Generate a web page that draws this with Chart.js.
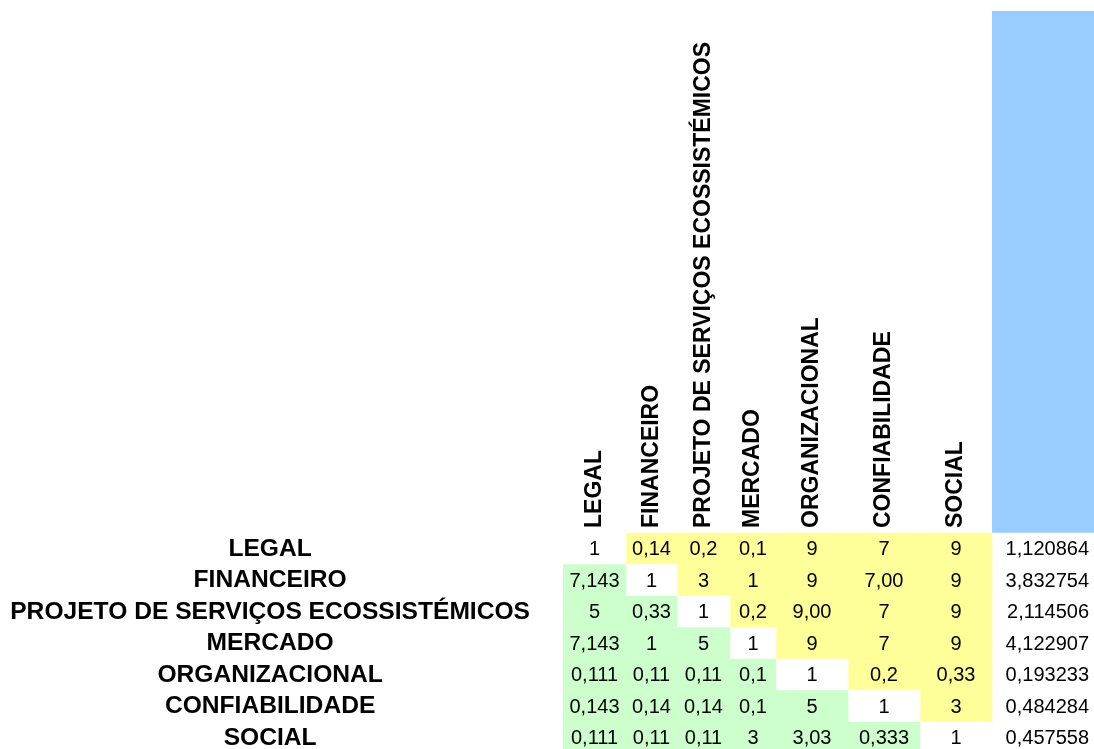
<!DOCTYPE html>
<html>
<head>
<meta charset="utf-8">
<script src="https://cdn.jsdelivr.net/npm/chart.js@4"></script>
<style>
  html, body { margin: 0; padding: 0; background: #fff; overflow: hidden; }
  canvas { display: block; }
</style>
</head>
<body>
<canvas id="matriz" width="1094" height="749"></canvas>
<script>
// criterios (linhas e colunas da matriz)
const criterios = ['LEGAL', 'FINANCEIRO', 'PROJETO DE SERVIÇOS ECOSSISTÉMICOS', 'MERCADO', 'ORGANIZACIONAL', 'CONFIABILIDADE', 'SOCIAL']

// valores de cada linha, como aparecem na planilha
const legal = ['1', '0,14', '0,2', '0,1', '9', '7', '9']
const financeiro = ['7,143', '1', '3', '1', '9', '7,00', '9']
const projeto = ['5', '0,33', '1', '0,2', '9,00', '7', '9']
const mercado = ['7,143', '1', '5', '1', '9', '7', '9']
const organizacional = ['0,111', '0,11', '0,11', '0,1', '1', '0,2', '0,33']
const confiabilidade = ['0,143', '0,14', '0,14', '0,1', '5', '1', '3']
const social = ['0,111', '0,11', '0,11', '3', '3,03', '0,333', '1']

// pesos (ultima coluna)
const pesos = [1.120864, 3.832754, 2.114506, 4.122907, 0.193233, 0.484284, 0.457558]

const linhas = [legal, financeiro, projeto, mercado, organizacional, confiabilidade, social]

// layout: largura das colunas (em px do eixo x), altura da linha e topo do cabecalho
const larguras = [63, 51, 53, 46, 72, 72, 72, 102]
const bordas = [0]
larguras.forEach(w => bordas.push(bordas[bordas.length - 1] + w))
const alturaLinha = 31.5
const topoTabela = 533
const topoCabecalho = -(topoTabela - 11) / alturaLinha

const amarelo = '#FFFF99'
const verde = '#CCFFCC'
const azul = '#99CCFF'

function cor_celula(linha, coluna) {
    if (coluna >= criterios.length || linha === coluna) return '#FFFFFF'
    return coluna > linha ? amarelo : verde
}

function formata_peso(v) {
    return v.toFixed(6).replace('.', ',')
}

const datasets = []
for (let c = 0; c <= criterios.length; c++) {
    datasets.push({
        type: 'bar',
        indexAxis: 'y',
        data: linhas.map((l, i) => ({ y: i + 0.5, x: [bordas[c], bordas[c + 1]] })),
        backgroundColor: ctx => cor_celula(ctx.dataIndex, c),
        borderWidth: 0,
        barPercentage: 1,
        categoryPercentage: 1,
        grouped: false,
        coluna: c
    })
}
// celula azul acima da coluna de pesos
datasets.push({
    type: 'line',
    data: [{ x: bordas[7], y: topoCabecalho }, { x: bordas[8], y: topoCabecalho }],
    fill: { value: 0 },
    backgroundColor: azul,
    borderWidth: 0,
    pointRadius: 0
})

const textos = {
    id: 'textos',
    afterDatasetsDraw(chart) {
        const ctx = chart.ctx
        const yScale = chart.scales.y
        ctx.save()
        ctx.fillStyle = '#000'
        chart.data.datasets.forEach((ds, di) => {
            if (ds.type !== 'bar') return
            const meta = chart.getDatasetMeta(di)
            meta.data.forEach((el, i) => {
                const x0 = Math.min(el.x, el.base)
                const x1 = Math.max(el.x, el.base)
                ctx.font = '20px "Liberation Sans", Arial, sans-serif'
                ctx.textBaseline = 'middle'
                if (ds.coluna < criterios.length) {
                    ctx.textAlign = 'center'
                    ctx.fillText(linhas[i][ds.coluna], (x0 + x1) / 2, el.y + 1)
                } else {
                    ctx.textAlign = 'right'
                    ctx.fillText(formata_peso(pesos[i]), x1 - 5, el.y + 1)
                }
            })
            // cabecalho vertical
            if (ds.coluna < criterios.length) {
                const el = meta.data[0]
                const cx = (el.x + el.base) / 2
                ctx.save()
                ctx.translate(cx, yScale.getPixelForValue(0) - 5)
                ctx.rotate(-Math.PI / 2)
                ctx.font = 'bold 23px "Liberation Sans", Arial, sans-serif'
                ctx.textAlign = 'left'
                ctx.textBaseline = 'middle'
                ctx.fillText(criterios[ds.coluna], 0, 0)
                ctx.restore()
            }
        })
        ctx.restore()
    }
}

const chart = new Chart(document.getElementById('matriz').getContext('2d'), {
    data: { datasets: datasets },
    options: {
        responsive: false,
        animation: false,
        devicePixelRatio: 1,
        layout: { padding: 0 },
        plugins: { legend: { display: false }, tooltip: { enabled: false } },
        scales: {
            x: {
                type: 'linear',
                offset: false,
                min: 0,
                max: bordas[bordas.length - 1],
                display: false
            },
            y: {
                type: 'linear',
                offset: false,
                reverse: true,
                min: -topoTabela / alturaLinha,
                max: (749 - topoTabela) / alturaLinha,
                grid: { display: false, drawTicks: false, offset: false },
                border: { display: false },
                afterBuildTicks: axis => {
                    axis.ticks = criterios.map((_, i) => ({ value: i + 0.5 }))
                },
                afterFit: axis => {
                    axis.width = 563
                    axis.paddingTop = 0
                    axis.paddingBottom = 0
                },
                ticks: {
                    crossAlign: 'center',
                    padding: 33,
                    color: '#000',
                    font: { family: '"Liberation Sans", Arial, sans-serif', size: 24.6, weight: 'bold' },
                    callback: v => criterios[Math.floor(v)]
                }
            }
        }
    },
    plugins: [textos]
});
</script>
</body>
</html>
